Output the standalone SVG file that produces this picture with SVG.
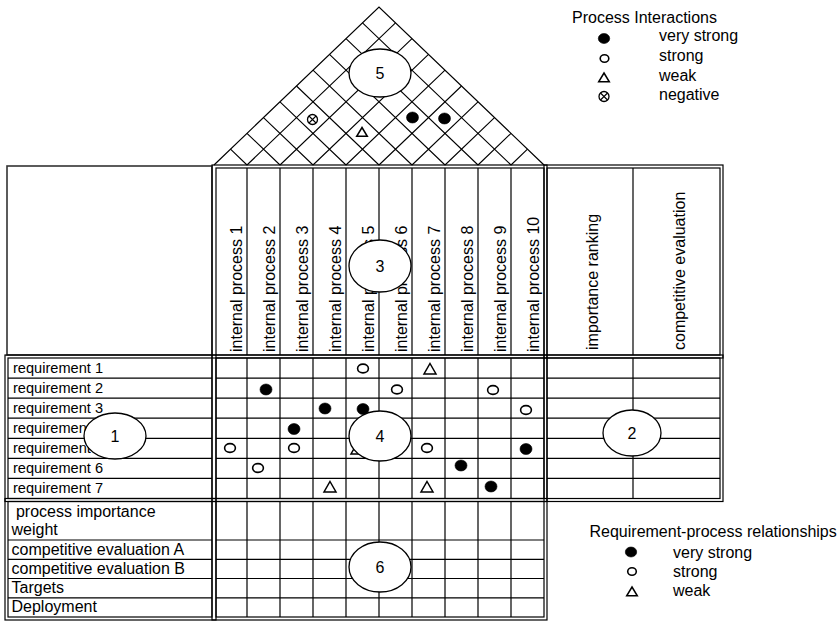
<svg xmlns="http://www.w3.org/2000/svg" width="837" height="621" viewBox="0 0 837 621">
<style>
.ln{stroke:#000;stroke-width:1.2;fill:none}
.lt{stroke:#000;stroke-width:1.1;fill:none}
.box1{stroke:#333;stroke-width:1.6;fill:none}
.t{font-family:"Liberation Sans",Arial,Helvetica,sans-serif;font-size:16px;fill:#000}
.rq{font-size:14.6px}
.vs{fill:#000;stroke:#000;stroke-width:0.6}
.st{fill:#fff;stroke:#000;stroke-width:1.6}
.wk{fill:#fff;stroke:#000;stroke-width:1.5;stroke-linejoin:miter}
.ng{fill:#fff;stroke:#000;stroke-width:1.3}
.num{fill:#fff;stroke:#000;stroke-width:1.3}
</style>
<defs>
<ellipse id="vsM" class="vs" cx="0" cy="0" rx="6" ry="5.5"/>
<ellipse id="stM" class="st" cx="0" cy="0" rx="5.4" ry="4.4"/>
<polygon id="wkM" class="wk" points="0,-5.5 6,5 -6,5"/>
<ellipse id="vsL" class="vs" cx="0" cy="0" rx="5.7" ry="5"/>
<ellipse id="stL" class="st" cx="0" cy="0" rx="4.3" ry="3.7"/>
<polygon id="wkL" class="wk" points="0,-4.5 5.3,4.3 -5.3,4.3"/>
<g id="ngL"><circle class="ng" cx="0" cy="0" r="5"/><path class="lt" d="M-3.5,-3.5L3.5,3.5M3.5,-3.5L-3.5,3.5"/></g>
</defs>

<g id="roof">
<polyline class="ln" points="214,165 379,7 544,165"/>
<path class="lt" d="M247,165L395.5,22.8M247,165L230.5,149.2
M280,165L412,38.6M280,165L247,133.4
M313,165L428.5,54.4M313,165L263.5,117.6
M346,165L445,70.2M346,165L280,101.8
M379,165L461.5,86M379,165L296.5,86
M412,165L478,101.8M412,165L313,70.2
M445,165L494.5,117.6M445,165L329.5,54.4
M478,165L511,133.4M478,165L346,38.6
M511,165L527.5,149.2M511,165L362.5,22.8"/>
<use href="#ngL" x="312.5" y="119.5"/>
<use href="#wkL" x="362" y="132"/>
<use href="#vsM" x="412.5" y="117.5"/>
<use href="#vsM" x="444.5" y="118.5"/>
</g>

<g id="header-left"><rect class="box1" x="7" y="166" width="205" height="189"/></g>

<g id="process-header">
<rect class="ln" x="212" y="165" width="335" height="193"/>
<rect class="ln" x="216" y="168" width="328" height="187"/>
<path class="ln" d="M247,168V355M280,168V355M313,168V355M346,168V355M379,168V355M412,168V355M445,168V355M478,168V355M511,168V355"/>
<g class="t">
<text transform="translate(241.5,352) rotate(-90)">internal process 1</text>
<text transform="translate(274.5,352) rotate(-90)">internal process 2</text>
<text transform="translate(307.5,352) rotate(-90)">internal process 3</text>
<text transform="translate(340.5,352) rotate(-90)">internal process 4</text>
<text transform="translate(373.5,352) rotate(-90)">internal process 5</text>
<text transform="translate(406.5,352) rotate(-90)">internal process 6</text>
<text transform="translate(439.5,352) rotate(-90)">internal process 7</text>
<text transform="translate(472.5,352) rotate(-90)">internal process 8</text>
<text transform="translate(505.5,352) rotate(-90)">internal process 9</text>
<text transform="translate(538.5,352) rotate(-90)">internal process 10</text>
</g>
</g>

<g id="right-header">
<rect class="ln" x="544" y="165" width="179" height="193"/>
<rect class="ln" x="547" y="168" width="173" height="187"/>
<path class="ln" d="M633,168V355"/>
<g class="t">
<text transform="translate(597.5,350) rotate(-90)">importance ranking</text>
<text transform="translate(685,350) rotate(-90)">competitive evaluation</text>
</g>
</g>

<g id="requirements">
<rect class="ln" x="5" y="355" width="211" height="146.5"/>
<rect class="ln" x="8" y="358" width="204" height="140.5"/>
<path class="ln" d="M8,378.1H212M8,398.1H212M8,418.2H212M8,438.3H212M8,458.4H212M8,478.4H212"/>
<g class="t rq">
<text x="13" y="373">requirement 1</text>
<text x="13" y="393">requirement 2</text>
<text x="13" y="413">requirement 3</text>
<text x="13" y="433">requirement 4</text>
<text x="13" y="453">requirement 5</text>
<text x="13" y="473">requirement 6</text>
<text x="13" y="493">requirement 7</text>
</g>
</g>

<g id="matrix">
<rect class="ln" x="212" y="355" width="335" height="146.5"/>
<rect class="ln" x="216" y="358" width="328" height="140.5"/>
<path class="ln" d="M247,358V498.5M280,358V498.5M313,358V498.5M346,358V498.5M379,358V498.5M412,358V498.5M445,358V498.5M478,358V498.5M511,358V498.5
M216,378.1H544M216,398.1H544M216,418.2H544M216,438.3H544M216,458.4H544M216,478.4H544"/>
<use href="#stM" x="363" y="368.5"/>
<use href="#wkM" x="430" y="369"/>
<use href="#vsM" x="266" y="389.5"/>
<use href="#stM" x="397" y="389.5"/>
<use href="#stM" x="493" y="390"/>
<use href="#vsM" x="325" y="408.5"/>
<use href="#vsM" x="363" y="409"/>
<use href="#stM" x="526" y="410"/>
<use href="#vsM" x="294" y="429"/>
<use href="#stM" x="230" y="448"/>
<use href="#stM" x="294" y="448"/>
<use href="#wkM" x="357" y="449"/>
<use href="#stM" x="427" y="448"/>
<use href="#vsM" x="526" y="449"/>
<use href="#stM" x="258" y="468"/>
<use href="#vsM" x="461" y="465.5"/>
<use href="#wkM" x="330" y="487"/>
<use href="#wkM" x="427" y="487"/>
<use href="#vsM" x="491" y="486.5"/>
</g>

<g id="right-matrix">
<rect class="ln" x="544" y="355" width="179" height="146.5"/>
<rect class="ln" x="547" y="358" width="173" height="140.5"/>
<path class="ln" d="M633,358V498.5M547,378.1H720M547,398.1H720M547,418.2H720M547,438.3H720M547,458.4H720M547,478.4H720"/>
</g>

<g id="bottom-left">
<rect class="ln" x="5" y="498.5" width="211" height="121.5"/>
<rect class="ln" x="8" y="501.5" width="204" height="115.5"/>
<path class="ln" d="M8,540H212M8,559.3H212M8,578.5H212M8,597.8H212"/>
<g class="t">
<text x="11.5" y="517" xml:space="preserve"> process importance</text>
<text x="11.5" y="535">weight</text>
<text x="11.5" y="555">competitive evaluation A</text>
<text x="11.5" y="574">competitive evaluation B</text>
<text x="11.5" y="593">Targets</text>
<text x="11.5" y="612">Deployment</text>
</g>
</g>

<g id="bottom-matrix">
<rect class="ln" x="212" y="498.5" width="335" height="121.5"/>
<rect class="ln" x="216" y="501.5" width="328" height="115.5"/>
<path class="ln" d="M247,501.5V617M280,501.5V617M313,501.5V617M346,501.5V617M379,501.5V617M412,501.5V617M445,501.5V617M478,501.5V617M511,501.5V617
M216,540H544M216,559.3H544M216,578.5H544M216,597.8H544"/>
</g>

<g id="labels">
<g id="n5"><ellipse class="num" cx="380" cy="73" rx="31" ry="24"/><text class="t" x="380" y="79" text-anchor="middle">5</text></g>
<g id="n3"><ellipse class="num" cx="380" cy="266" rx="31" ry="26"/><text class="t" x="380" y="272" text-anchor="middle">3</text></g>
<g id="n1"><ellipse class="num" cx="115" cy="436" rx="31" ry="23"/><text class="t" x="115" y="442" text-anchor="middle">1</text></g>
<g id="n4"><ellipse class="num" cx="380" cy="436" rx="31" ry="25"/><text class="t" x="380" y="442" text-anchor="middle">4</text></g>
<g id="n2"><ellipse class="num" cx="632" cy="433" rx="29" ry="23"/><text class="t" x="632" y="439" text-anchor="middle">2</text></g>
<g id="n6"><ellipse class="num" cx="380" cy="567" rx="31" ry="25"/><text class="t" x="380" y="573" text-anchor="middle">6</text></g>
</g>

<g id="legend-interactions">
<text class="t" x="572" y="23">Process Interactions</text>
<use href="#vsL" x="604" y="38.5"/>
<use href="#stL" x="604.5" y="58.5"/>
<use href="#wkL" x="604" y="77.5"/>
<use href="#ngL" x="604" y="96.5"/>
<text class="t" x="659" y="41">very strong</text>
<text class="t" x="659" y="60.5">strong</text>
<text class="t" x="659" y="80.5">weak</text>
<text class="t" x="659" y="100">negative</text>
</g>

<g id="legend-relationships">
<text class="t" x="589.5" y="537">Requirement-process relationships</text>
<use href="#vsL" x="631" y="552"/>
<use href="#stL" x="632" y="571.5"/>
<use href="#wkL" x="632" y="591.5"/>
<text class="t" x="673" y="557.5">very strong</text>
<text class="t" x="673" y="576.5">strong</text>
<text class="t" x="673" y="595.5">weak</text>
</g>
</svg>
